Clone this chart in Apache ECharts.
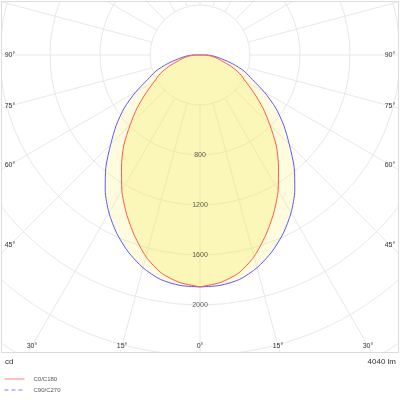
<!DOCTYPE html>
<html>
<head>
<meta charset="utf-8">
<script src="https://cdn.jsdelivr.net/npm/echarts@6/dist/echarts.min.js"></script>
<style>
html,body{margin:0;padding:0;background:#fff;}
#chart{width:400px;height:400px;}
</style>
</head>
<body>
<div id="chart"></div>
<script>
// gamma angles (deg) at which intensities were read
const gammas = [0,5,10,15,20,25,30,35,40,45,50,55,60,65,70,75,80,85,90];
// intensities in cd
const c0   = [1854,1828,1772,1670,1535,1395,1250,1095,950,790,655,525,420,350,265,180,130,80,30];
const c180 = [1854,1828,1772,1670,1535,1395,1250,1095,950,790,655,525,420,350,265,180,130,80,30];
const c90  = [1856,1850,1823,1762,1677,1575,1457,1322,1172,1010,875,740,595,460,375,270,175,115,55];
const c270 = [1856,1850,1823,1762,1677,1575,1457,1322,1172,1010,875,740,595,460,375,270,175,115,55];
// ring labels (cd)
const ringLabels = [800,1200,1600,2000];
// angle tick labels
const sideAngles = [90,75,60,45];
const bottomAngles = [30,15,0];
const seriesNames = ['C0/C180','C90/C270'];
const unitText = 'cd';
const fluxText = '4040 lm';

const CX = 200, CY = 55, RMAX = 2900, PX_PER_CD = 1/8;
const R = RMAX * PX_PER_CD;

function curve(left, right){
  const d = [];
  gammas.forEach((g,i)=>d.push([left[i], g]));
  for(let i=gammas.length-1;i>=0;i--) d.push([right[i], 360-gammas[i]]);
  return d;
}

const txt = {fontFamily:'Liberation Sans', fontSize:7, fill:'#333'};
const graphics = [
  {type:'rect', shape:{x:0,y:352.5,width:400,height:48}, style:{fill:'#fff'}, z:50},
  {type:'rect', shape:{x:0,y:0,width:1,height:400}, style:{fill:'#fff'}, z:50},
  {type:'rect', shape:{x:399,y:0,width:1,height:400}, style:{fill:'#fff'}, z:50},
  {type:'rect', shape:{x:0,y:0,width:400,height:1}, style:{fill:'#fff'}, z:50},
  {type:'rect', shape:{x:1.5,y:1.5,width:397,height:351}, style:{fill:'none', stroke:'#dcdcdc', lineWidth:1}, z:60},
  {type:'text', x:5, y:362, style:{text:unitText, fontFamily:'Liberation Sans', fontSize:8, fill:'#333', verticalAlign:'middle'}, z:70},
  {type:'text', x:396, y:362, style:{text:fluxText, fontFamily:'Liberation Sans', fontSize:8, fill:'#333', align:'right', verticalAlign:'middle'}, z:70}
];
sideAngles.forEach(a=>{
  const rad = a*Math.PI/180;
  const y = CY + (CX-10)*Math.cos(rad)/Math.sin(rad);
  graphics.push({type:'text', x:10, y:y, style:Object.assign({text:a+'°', align:'center', verticalAlign:'middle'}, txt), z:70});
  graphics.push({type:'text', x:390, y:y, style:Object.assign({text:a+'°', align:'center', verticalAlign:'middle'}, txt), z:70});
});
bottomAngles.forEach(a=>{
  const rad = a*Math.PI/180;
  const dx = (346-CY)*Math.tan(rad);
  graphics.push({type:'text', x:CX-dx, y:346, style:Object.assign({text:a+'°', align:'center', verticalAlign:'middle'}, txt), z:70});
  if(a!==0) graphics.push({type:'text', x:CX+dx, y:346, style:Object.assign({text:a+'°', align:'center', verticalAlign:'middle'}, txt), z:70});
});

const gridColor = '#e8e8e8';
const chart = echarts.init(document.getElementById('chart'), null, {renderer:'canvas'});
chart.setOption({
  animation:false,
  backgroundColor:'#fff',
  polar:[
    {center:[CX,CY], radius:[0,R]},
    {center:[CX,CY], radius:[50,R]}
  ],
  angleAxis:[
    {polarIndex:0, type:'value', min:0, max:360, startAngle:270, clockwise:true,
     axisLine:{show:false}, axisTick:{show:false}, axisLabel:{show:false}, splitLine:{show:false}},
    {polarIndex:1, type:'value', min:0, max:360, interval:15, startAngle:270, clockwise:true,
     axisLine:{show:false}, axisTick:{show:false}, axisLabel:{show:false},
     splitLine:{show:true, lineStyle:{color:gridColor, width:1}}}
  ],
  radiusAxis:[
    {polarIndex:0, type:'value', min:0, max:RMAX, interval:400,
     axisLine:{show:false}, axisTick:{show:false}, axisLabel:{show:false},
     splitLine:{show:true, lineStyle:{color:gridColor, width:1}}},
    {polarIndex:1, type:'value', min:0, max:1,
     axisLine:{show:false}, axisTick:{show:false}, axisLabel:{show:false}, splitLine:{show:false}}
  ],
  legend:{
    orient:'vertical', left:4, top:375, padding:0, itemWidth:20, itemHeight:8, itemGap:3, z:80,
    itemStyle:{opacity:0},
    lineStyle:{width:1},
    textStyle:{fontFamily:'Liberation Sans', fontSize:6, color:'#555', lineHeight:8, padding:[0,0,0,4]},
    data:[
      {name:seriesNames[0], lineStyle:{width:1, color:'#ff8080'}},
      {name:seriesNames[1], lineStyle:{width:1, type:[4,3], color:'#8080ff'}}
    ]
  },
  series:[
    {name:seriesNames[1], type:'line', coordinateSystem:'polar', polarIndex:0, symbol:'none', smooth:0.25,
     data:curve(c90,c270), lineStyle:{color:'#5a5aff', width:1},
     areaStyle:{color:'rgba(250,240,120,0.35)'}, z:2},
    {name:seriesNames[0], type:'line', coordinateSystem:'polar', polarIndex:0, symbol:'none', smooth:0.25,
     data:curve(c0,c180), lineStyle:{color:'#ff5a4a', width:1},
     areaStyle:{color:'rgba(245,235,80,0.39)'}, z:3},
    {type:'scatter', coordinateSystem:'polar', polarIndex:0, symbolSize:1,
     itemStyle:{color:'rgba(0,0,0,0)'}, silent:true, z:5,
     data:ringLabels.map(v=>[v,0]),
     label:{show:true, position:'inside', formatter:p=>String(p.value[0]),
            fontFamily:'Liberation Sans', fontSize:7, color:'#333'}}
  ],
  graphic:graphics
});
</script>
</body>
</html>
